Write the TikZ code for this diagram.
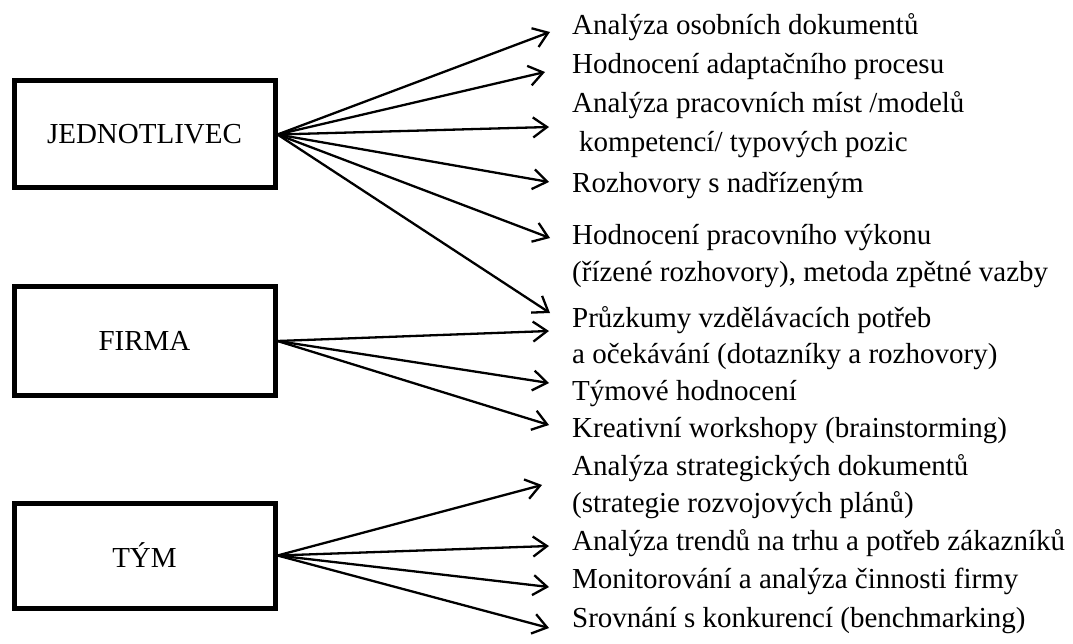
\documentclass[tikz,border=0pt]{standalone}
\usepackage{fontspec}
\setmainfont{Liberation Serif}
\usetikzlibrary{arrows.meta}
\begin{document}
\begin{tikzpicture}[x=1pt,y=-1pt,
  box/.style={draw, line width=5pt, minimum width=261pt, inner sep=0pt, font=\fontsize{29}{34}\selectfont},
  item/.style={anchor=base west, inner sep=0pt, font=\fontsize{29}{34}\selectfont},
  arr/.style={line width=2.3pt, -{Straight Barb[length=14pt,width=20pt,line width=2.3pt]}}
]
\useasboundingbox (0,0) rectangle (1073,644);

% boxes
\node[box, minimum height=107pt] (jed) at (144.5,134.5) {JEDNOTLIVEC};
\node[box, minimum height=109pt] (fir) at (144.5,341) {FIRMA};
\node[box, minimum height=105pt] (tym) at (144.5,555.5) {TÝM};

% texts
\node[item] (l1)  at (572,35)  {Analýza osobních dokumentů};
\node[item] (l2)  at (572,74)  {Hodnocení adaptačního procesu};
\node[item] (l3a) at (572,113) {Analýza pracovních míst /modelů};
\node[item] (l3b) at (579,152) {kompetencí/ typových pozic};
\node[item] (l4)  at (572,193) {Rozhovory s nadřízeným};
\node[item] (l5a) at (572,245) {Hodnocení pracovního výkonu};
\node[item] (l5b) at (572,282) {(řízené rozhovory), metoda zpětné vazby};
\node[item] (l6a) at (572,327) {Průzkumy vzdělávacích potřeb};
\node[item] (l6b) at (572,363) {a očekávání (dotazníky a rozhovory)};
\node[item] (l7)  at (572,400) {Týmové hodnocení};
\node[item] (l8)  at (572,437) {Kreativní workshopy (brainstorming)};
\node[item] (l9a) at (572,475) {Analýza strategických dokumentů};
\node[item] (l9b) at (572,512) {(strategie rozvojových plánů)};
\node[item] (l10) at (572,550) {Analýza trendů na trhu a potřeb zákazníků};
\node[item] (l11) at (572,588) {Monitorování a analýza činnosti firmy};
\node[item] (l12) at (572,627) {Srovnání s konkurencí (benchmarking)};

% arrow tips
\coordinate (t1) at (550,32);
\coordinate (t2) at (545,72);
\coordinate (t3) at (549,127);
\coordinate (t4) at (549,182);
\coordinate (t5) at (550,238);
\coordinate (t6) at (550,313);
\coordinate (t7) at (549,331);
\coordinate (t8) at (549,383);
\coordinate (t9) at (549,425);
\coordinate (t10) at (542,485);
\coordinate (t11) at (549,546);
\coordinate (t12) at (549,587);
\coordinate (t13) at (549,628);

\foreach \t in {t1,t2,t3,t4,t5,t6} \draw[arr] (jed.east) -- (\t);
\foreach \t in {t7,t8,t9} \draw[arr] (fir.east) -- (\t);
\foreach \t in {t10,t11,t12,t13} \draw[arr] (tym.east) -- (\t);
\end{tikzpicture}
\end{document}
